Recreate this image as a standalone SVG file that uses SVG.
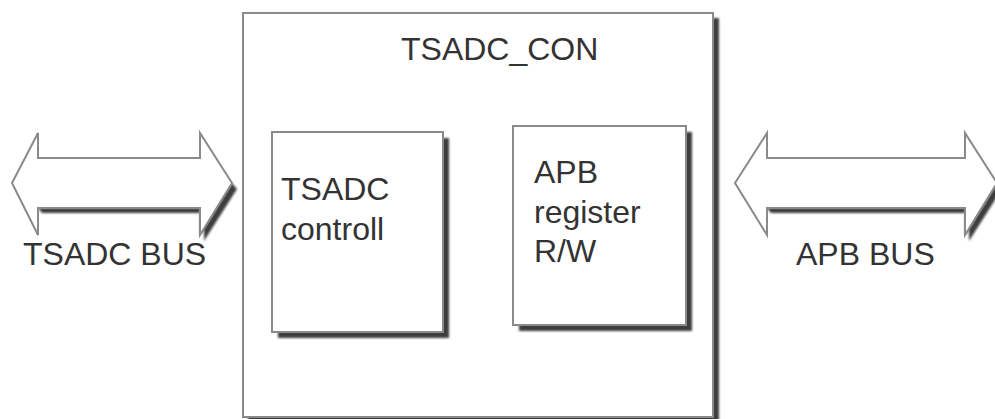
<svg xmlns="http://www.w3.org/2000/svg" width="995" height="419" viewBox="0 0 995 419">
<style>
.box{fill:#fff;stroke:#8a8a8a;stroke-width:2}
.shadow{fill:#3c3c3c;filter:url(#blur)}
.arrow{fill:#fff;stroke:#8a8a8a;stroke-width:2;stroke-linejoin:miter}
text{font-family:"Liberation Sans",Arial,sans-serif;font-size:32px;fill:#333}
</style>
<defs>
<filter id="blur" x="-10%" y="-10%" width="120%" height="120%"><feGaussianBlur stdDeviation="1"/></filter>
</defs>
<rect width="995" height="419" fill="#fff"/>
<g id="outer">
<rect class="shadow" x="248" y="18" width="471" height="410"/>
<rect class="box" x="243" y="13" width="470" height="404"/>
<text x="401" y="60">TSADC_CON</text>
</g>
<g id="tsadc-controll">
<rect class="shadow" x="278" y="138" width="171" height="200"/>
<rect class="box" x="272" y="132" width="171" height="200"/>
<text x="281" y="200">TSADC</text>
<text x="281" y="240">controll</text>
</g>
<g id="apb-register">
<rect class="shadow" x="519" y="132" width="173" height="199"/>
<rect class="box" x="513" y="126" width="173" height="199"/>
<text x="534" y="183">APB</text>
<text x="534" y="223">register</text>
<text x="534" y="262">R/W</text>
</g>
<g id="connectors">
<g id="tsadc-bus">
<path class="shadow" d="M42 213 L204 213 L204 241 L237 189 L232 183 L200 235 L200 208 L38 208 Z"/>
<path class="arrow" d="M12 183 L38 133 L38 158 L200 158 L200 133 L232 183 L200 235 L200 208 L38 208 L38 235 Z"/>
<text x="23" y="265">TSADC BUS</text>
</g>
<g id="apb-bus">
<path class="shadow" d="M771 213 L969 213 L969 241 L1002 189 L997 183 L965 235 L965 208 L767 208 Z"/>
<path class="arrow" d="M735 183 L767 133 L767 158 L965 158 L965 133 L997 183 L965 235 L965 208 L767 208 L767 235 Z"/>
<text x="796" y="265">APB BUS</text>
</g>
</g>
</svg>
